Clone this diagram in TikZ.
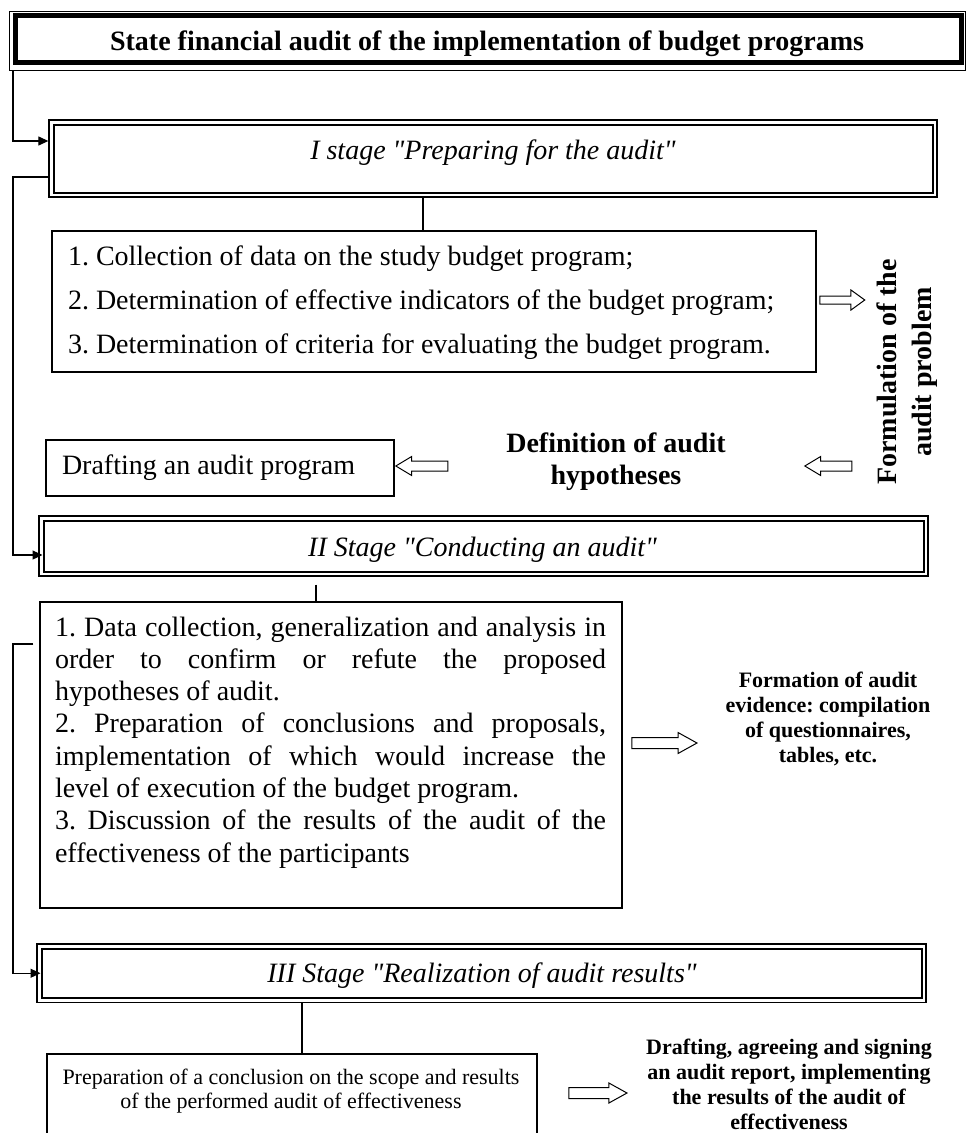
\documentclass[tikz,border=0pt]{standalone}
\usepackage{fontspec}
\setmainfont{Liberation Serif}[Ligatures=TeXOff]
\usetikzlibrary{shapes.arrows,arrows.meta}
\newcommand{\sq}{\char34\relax}
\begin{document}
\frenchspacing
\begin{tikzpicture}[x=1pt,y=-1pt,
  box/.style={draw, line width=1.3pt, inner sep=0pt},
  outerst/.style={draw, line width=1.3pt, inner sep=0pt},
  innerst/.style={draw, line width=2pt, inner sep=0pt},
  txt/.style={inner sep=0pt, outer sep=0pt},
  conn/.style={line width=1.2pt},
  arr/.style={conn, -{Triangle[length=10pt,width=9pt]}},
  harrow/.style={single arrow, draw, line width=1pt, inner xsep=0pt,
    text height=0pt, text depth=0pt, text width=0pt, fill=white}
]
\useasboundingbox (0,0) rectangle (966,1133);

% title
\node[draw, line width=1pt, inner sep=0pt, minimum width=956.5pt, minimum height=59pt] (title) at (487.25,40.5) {};
\node[draw, line width=5pt, inner sep=0pt, minimum width=946.5pt, minimum height=47pt] (titlein) at (488.25,39) {};
\node[txt, anchor=base] (titletxt) at (487,50) {\fontsize{28}{32}\selectfont\bfseries State financial audit of the implementation of budget programs};

% stage I
\node[outerst, minimum width=888pt, minimum height=77pt] (s1) at (493,158.5) {};
\node[innerst, minimum width=879pt, minimum height=68pt] (s1i) at (493,158.5) {};
\node[txt, anchor=base] (s1t) at (493,159) {\fontsize{28}{32}\selectfont\itshape I stage \sq Preparing for the audit\sq};

% box 1
\node[box, minimum width=764pt, minimum height=141pt] (b1) at (434,301.5) {};
\node[txt, anchor=base west] (b1t) at (68,265) {\parbox[t]{740pt}{\fontsize{28}{44}\selectfont\frenchspacing
1. Collection of data on the study budget program;\\
2. Determination of effective indicators of the budget program;\\
3. Determination of criteria for evaluating the budget program.}};

\node[harrow, minimum height=45pt, inner ysep=3.5pt, single arrow head extend=6pt, single arrow tip angle=72] (a1) at (839.5,300) {};

\node[txt, anchor=base, rotate=90] (form) at (896,372) {\parbox[t]{300pt}{\centering\fontsize{28}{35}\selectfont\bfseries Formulation of the\\audit problem}};

% hypotheses row
\node[harrow, shape border rotate=180, minimum height=47pt, inner ysep=4.5pt, single arrow head extend=4.5pt, single arrow tip angle=62] (a2) at (832.5,466) {};
\node[txt, anchor=base] (hyp) at (616,452) {\parbox[t]{300pt}{\centering\fontsize{28}{32}\selectfont\bfseries Definition of audit\\hypotheses}};
\node[harrow, shape border rotate=180, minimum height=52pt, inner ysep=4.5pt, single arrow head extend=4.5pt, single arrow tip angle=62] (a3) at (426,466) {};
\node[box, minimum width=348pt, minimum height=56pt] (dr) at (220,468) {};
\node[txt, anchor=base west] (drt) at (62,474) {\fontsize{28}{32}\selectfont Drafting an audit program};

% stage II
\node[outerst, minimum width=889pt, minimum height=60pt] (s2) at (483.5,546) {};
\node[innerst, minimum width=880pt, minimum height=51pt] (s2i) at (483.5,546) {};
\node[txt, anchor=base] (s2t) at (482.5,556) {\fontsize{28}{32}\selectfont\itshape II Stage \sq Conducting an audit\sq};

% box 2
\node[box, minimum width=582pt, minimum height=306pt] (b2) at (331,755) {};
\node[txt, anchor=base west] (b2t) at (55,636) {\parbox[t]{551pt}{\fontsize{28}{32.3}\selectfont\frenchspacing
\makebox[\linewidth][s]{1. Data collection, generalization and analysis in}\\
\makebox[\linewidth][s]{order to confirm or refute the proposed}\\
hypotheses of audit.\\
\makebox[\linewidth][s]{2. Preparation of conclusions and proposals,}\\
\makebox[\linewidth][s]{implementation of which would increase the}\\
level of execution of the budget program.\\
\makebox[\linewidth][s]{3. Discussion of the results of the audit of the}\\
effectiveness of the participants}};

\node[harrow, minimum height=65pt, inner ysep=5pt, single arrow head extend=5pt, single arrow tip angle=58] (a4) at (659.5,743) {};
\node[txt, anchor=base] (evid) at (828,687) {\parbox[t]{280pt}{\centering\fontsize{22}{25}\selectfont\bfseries Formation of audit\\evidence: compilation\\of questionnaires,\\tables, etc.}};

% stage III
\node[outerst, minimum width=889pt, minimum height=58.5pt] (s3) at (481.5,973.25) {};
\node[innerst, minimum width=880pt, minimum height=49.5pt] (s3i) at (481.5,973.25) {};
\node[txt, anchor=base] (s3t) at (482,982) {\fontsize{28}{32}\selectfont\itshape III Stage \sq Realization of audit results\sq};

% box 3
\node[box, minimum width=490pt, minimum height=106pt] (b3) at (292,1107) {};
\node[txt, anchor=base] (b3t) at (291,1084) {\parbox[t]{480pt}{\centering\fontsize{22}{24}\selectfont Preparation of a conclusion on the scope and results\\of the performed audit of effectiveness}};
\node[harrow, minimum height=58pt, inner ysep=5pt, single arrow head extend=4.5pt, single arrow tip angle=58] (a5) at (593,1093) {};
\node[txt, anchor=base] (rep) at (789,1054) {\parbox[t]{320pt}{\centering\fontsize{22}{25.3}\selectfont\bfseries Drafting, agreeing and signing\\an audit report, implementing\\the results of the audit of\\effectiveness}};

% connectors
\coordinate (xL) at (13,0);
\coordinate (xA) at (423,0);
\coordinate (xB) at (316,0);
\coordinate (xC) at (302,0);
\draw[arr] (title.south -| xL) |- ([yshift=17.5pt]s1.west);
\coordinate (p1) at ([yshift=-18.5pt]s1.west);
\coordinate (p2) at ([yshift=-9pt]s2i.west);
\draw[arr] (p1) -- (p1 -| xL) |- (p2);
\coordinate (p3) at ([xshift=-6pt,yshift=111pt]b2.west);
\draw[arr] (p3) -- (p3 -| xL) |- (s3i.west);
\draw[conn] (s1.south -| xA) -- (b1.north -| xA);
\coordinate (q2) at ([yshift=-8pt]s2.south);
\draw[conn] (q2 -| xB) -- (b2.north -| xB);
\draw[conn] (s3.south -| xC) -- (b3.north -| xC);
\end{tikzpicture}
\end{document}
